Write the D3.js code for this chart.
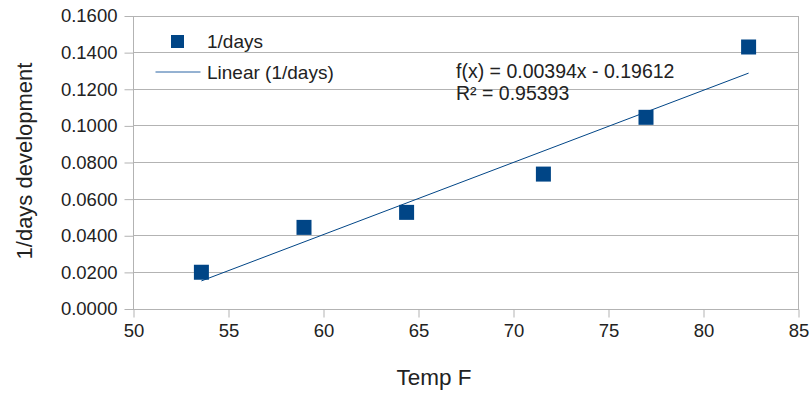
<!DOCTYPE html>
<html><head><meta charset="utf-8">
<script src="https://cdn.jsdelivr.net/npm/d3@7"></script>
<style>
body{margin:0;background:#fff;}
svg{display:block;font-family:"Liberation Sans",Arial,sans-serif;}
</style></head>
<body><svg id="c" width="811" height="393"></svg>
<script>
// Data
const tempF = [53.6, 59.0, 64.4, 71.6, 77.0, 82.4];
const rate = [0.0198, 0.0443, 0.0525, 0.0734, 0.1044, 0.1428];
const xTicks = [50, 55, 60, 65, 70, 75, 80, 85];
const yTicks = [0, 0.02, 0.04, 0.06, 0.08, 0.10, 0.12, 0.14, 0.16];
const trendSlope = 0.00394;
const trendIntercept = -0.19612;
const eqLabel = "f(x) = 0.00394x - 0.19612";
const r2Label = "R² = 0.95393";
const seriesName = "1/days";
const trendName = "Linear (1/days)";
const xTitle = "Temp F";
const yTitle = "1/days development";

const svg = d3.select("#c");
const L = 133, R = 798, T = 15.5, B = 308.5;
const x = d3.scaleLinear().domain([50, 85]).range([L, R]);
const y = d3.scaleLinear().domain([0, 0.16]).range([B, T]);
const blue = "#004586", grid = "#b3b3b3", txt = "#222";

// gridlines
svg.append("g").selectAll("line").data(yTicks).join("line")
  .attr("x1", L).attr("x2", R)
  .attr("y1", d => Math.round(y(d)) + 0.5).attr("y2", d => Math.round(y(d)) + 0.5)
  .attr("stroke", grid).attr("stroke-width", 1);
// border
svg.append("rect").attr("x", L + 0.5).attr("y", Math.round(T) + 0.5)
  .attr("width", R - L).attr("height", Math.round(B) - Math.round(T))
  .attr("fill", "none").attr("stroke", grid);

// y axis
const ya = svg.append("g").attr("transform", `translate(${L + 0.5},0.5)`)
  .call(d3.axisLeft(y).tickValues(yTicks).tickFormat(d3.format(".4f")).tickSize(9).tickPadding(7));
ya.select(".domain").remove();
ya.selectAll(".tick line").attr("stroke", grid);
ya.selectAll(".tick text").attr("fill", txt).style("font-size", "18.5px").attr("font-family", null);

// x axis
const xa = svg.append("g").attr("transform", `translate(0.5,${Math.round(B) + 0.5})`)
  .call(d3.axisBottom(x).tickValues(xTicks).tickFormat(d3.format("d")).tickSize(8).tickPadding(6));
xa.select(".domain").remove();
xa.selectAll(".tick line").attr("stroke", grid);
xa.selectAll(".tick text").attr("fill", txt).style("font-size", "18.5px").attr("font-family", null);

// trend line
const xr = d3.extent(tempF);
svg.append("line")
  .attr("x1", x(xr[0])).attr("y1", y(trendSlope * xr[0] + trendIntercept))
  .attr("x2", x(xr[1])).attr("y2", y(trendSlope * xr[1] + trendIntercept))
  .attr("stroke", blue).attr("stroke-width", 1);

// points
const s = 15;
svg.append("g").selectAll("rect").data(tempF.map((t, i) => [t, rate[i]])).join("rect")
  .attr("x", d => x(d[0]) - s / 2).attr("y", d => y(d[1]) - s / 2)
  .attr("width", s).attr("height", s).attr("fill", blue);

// equation
svg.append("text").attr("x", 456).attr("y", 78).attr("fill", txt).style("font-size", "19.5px").text(eqLabel);
svg.append("text").attr("x", 456).attr("y", 100).attr("fill", txt).style("font-size", "19.5px").text(r2Label);

// legend
svg.append("rect").attr("x", 171).attr("y", 35).attr("width", 13).attr("height", 13).attr("fill", blue);
svg.append("text").attr("x", 207).attr("y", 48).attr("fill", txt).style("font-size", "19px").text(seriesName);
svg.append("line").attr("x1", 155.5).attr("x2", 200.5).attr("y1", 72).attr("y2", 72)
  .attr("stroke", "#2a64a4").attr("stroke-width", 1);
svg.append("text").attr("x", 207).attr("y", 79).attr("fill", txt).style("font-size", "19px").text(trendName);

// axis titles
svg.append("text").attr("x", 434).attr("y", 385).attr("text-anchor", "middle")
  .attr("fill", txt).style("font-size", "22.5px").text(xTitle);
svg.append("text").attr("transform", "translate(32,161) rotate(-90)").attr("text-anchor", "middle")
  .attr("fill", txt).style("font-size", "22px").text(yTitle);
</script></body></html>
